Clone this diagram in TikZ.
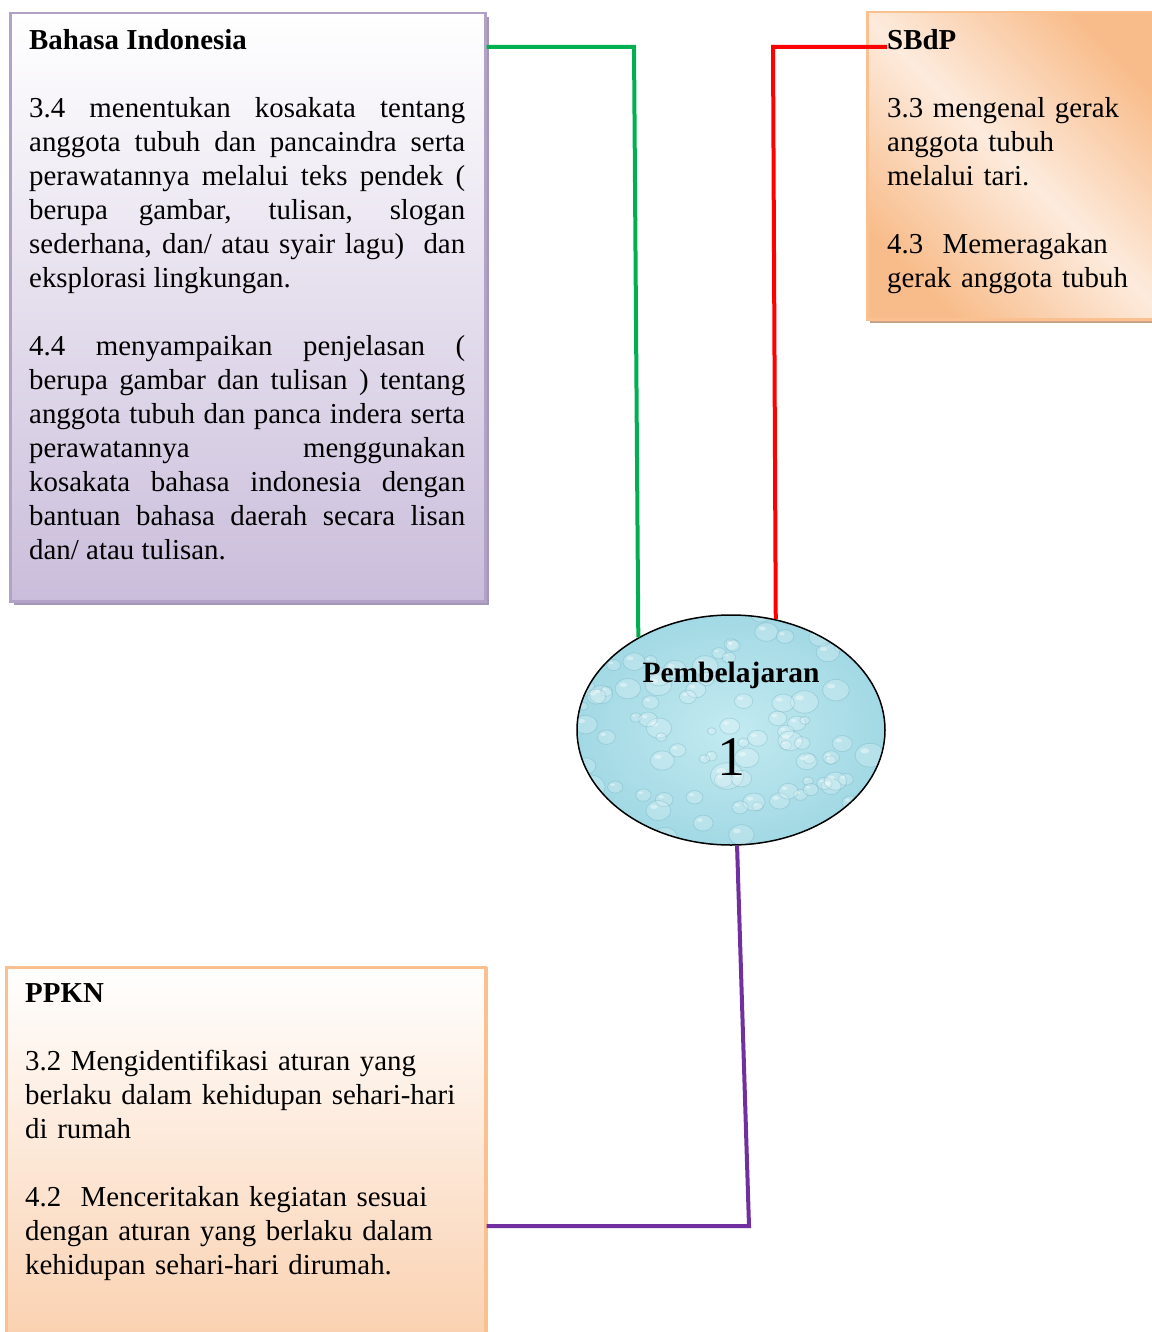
\documentclass[tikz,border=0pt]{standalone}
\usepackage{fontspec}
\setmainfont{Liberation Serif}
\usetikzlibrary{shapes.geometric, positioning, calc, shadows}

\definecolor{hijau}{HTML}{00B050}
\definecolor{merah}{HTML}{FF0000}
\definecolor{ungu}{HTML}{7030A0}
\definecolor{lavgaris}{HTML}{B3A2C7}
\definecolor{lavbawah}{HTML}{CABDDB}
\definecolor{lavbayang}{HTML}{A396B6}
\definecolor{jinggagaris}{HTML}{FAC090}
\definecolor{jingga}{HTML}{F8BC8A}
\definecolor{jinggamuda}{HTML}{FDEBDD}
\definecolor{coklat}{HTML}{C9A184}
\definecolor{persik}{HTML}{FAD1B0}
\definecolor{air}{HTML}{A2D9E4}
\definecolor{airmuda}{HTML}{C3EAF1}
\definecolor{airgelap}{HTML}{5FA6BA}

\tikzset{
  kotak/.style={rectangle, anchor=north west, inner sep=0pt, line width=2.5pt},
  isi/.style={anchor=north west, inner sep=0pt, font=\fontsize{28.9}{34}\selectfont},
  garis/.style={line width=4pt},
  tetes/.style={fill=white, fill opacity=.2, draw=airgelap, draw opacity=.3, line width=.8pt},
  kilau/.style={fill=white, fill opacity=.4}
}

\newcommand{\jeda}{\par\vspace{34pt}}
\hyphenpenalty=10000
\tolerance=10000

\begin{document}
\begin{tikzpicture}[x=1pt, y=-1pt]
\useasboundingbox (0,0) rectangle (1151,1332);

\node[kotak, draw=lavgaris, top color=white, bottom color=lavbawah,
  minimum width=475pt, minimum height=588pt,
  drop shadow={shadow xshift=4pt, shadow yshift=-4pt, fill=lavbayang, opacity=1}] (bi) at (9,12) {};
\node[isi, text width=436pt, align=justify] (bit) at (29,29) {\textbf{Bahasa Indonesia}\jeda
  3.4 menentukan kosakata tentang\linebreak anggota tubuh dan pancaindra serta\linebreak
  perawatannya melalui teks pendek (\linebreak berupa gambar, tulisan, slogan\linebreak
  sederhana, dan/ atau syair lagu)\ \ dan\linebreak eksplorasi lingkungan.\jeda
  4.4 menyampaikan penjelasan (\linebreak berupa gambar dan tulisan ) tentang\linebreak
  anggota tubuh dan panca indera serta\linebreak perawatannya menggunakan\linebreak
  kosakata bahasa indonesia dengan\linebreak bantuan bahasa daerah secara lisan\linebreak
  dan/ atau tulisan.};

\node[kotak, draw=jinggagaris, top color=jingga, bottom color=jingga, middle color=jinggamuda,
  shading angle=-45, minimum width=295pt, minimum height=307pt,
  drop shadow={shadow xshift=3pt, shadow yshift=-4pt, fill=coklat, opacity=1}] (sb) at (866,11) {};
\node[isi, text width=260pt] (sbt) at (887,29) {\raggedright\textbf{SBdP}\jeda
  3.3 mengenal gerak\\ anggota tubuh\\ melalui tari.\jeda
  4.3~ Memeragakan\\ gerak anggota tubuh};

\node[kotak, draw=jinggagaris, top color=white, bottom color=persik,
  minimum width=479pt, minimum height=372pt,
  drop shadow={shadow xshift=3pt, shadow yshift=0pt, fill=jinggagaris, opacity=1}] (pp) at (5,966) {};
\node[isi, text width=445pt] (ppt) at (25,983) {\raggedright\textbf{PPKN}\jeda
  3.2 Mengidentifikasi aturan yang\\ berlaku dalam kehidupan sehari-hari\\ di rumah\jeda
  4.2~ Menceritakan kegiatan sesuai\\ dengan aturan yang berlaku dalam\\ kehidupan sehari-hari dirumah.};

\node[ellipse, draw, line width=1.5pt, minimum width=308pt, minimum height=230pt,
  inner color=airmuda, outer color=air,
  path picture={
    \pgfmathsetseed{7}
    \foreach \i in {1,...,110}{
      \pgfmathsetmacro{\dx}{155*rand}
      \pgfmathsetmacro{\dy}{118*rand}
      \pgfmathsetmacro{\rad}{4+8*rnd+14*rnd*rnd*rnd}
      \fill[tetes] ($(path picture bounding box.center)+(\dx,\dy)$) ellipse ({\rad} and {0.8*\rad});
      \fill[kilau] ($(path picture bounding box.center)+(\dx,\dy)+(-0.35*\rad,-0.3*\rad)$)
        ellipse ({0.3*\rad} and {0.18*\rad});
    }
  }] (pb) at (731,730) {};
\node[font=\fontsize{29.5}{34}\selectfont\bfseries] (judul) at ([yshift=55pt]pb.center) {Pembelajaran};
\node[font=\fontsize{56}{60}\selectfont] (nomor) at ([yshift=-27pt]pb.center) {1};

\coordinate (kh) at (634,47);
\coordinate (km) at (773,47);
\coordinate (kp) at (749,1226);

\draw[garis, hijau] (kh -| bi.east) -- (kh) -- (pb.135);
\draw[garis, merah] (km -| sbt.west) -- (km) -- (pb.68);
\draw[garis, ungu] (pb.-87) -- (kp) -- (kp -| pp.east);
\end{tikzpicture}
\end{document}
